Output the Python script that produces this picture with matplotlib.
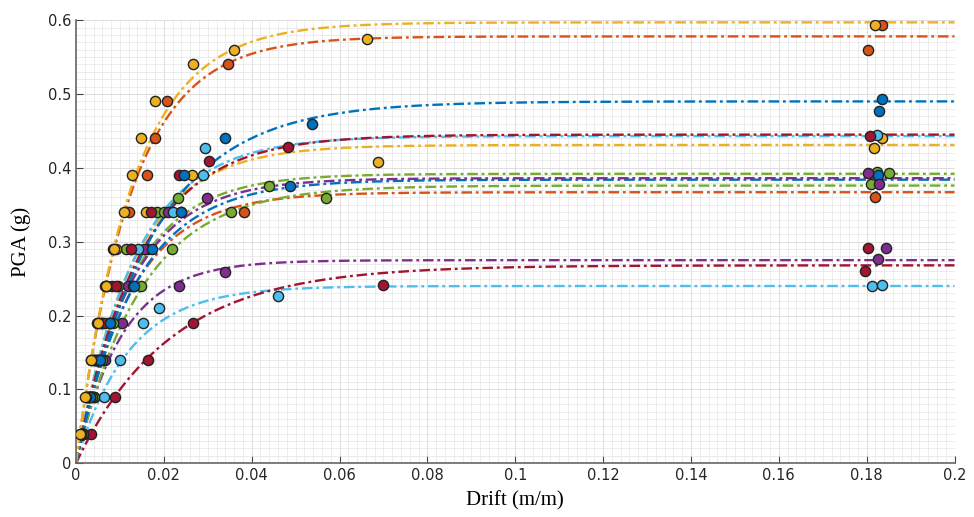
import numpy as np
import matplotlib
matplotlib.use("Agg")
import matplotlib.pyplot as plt
from matplotlib.ticker import MultipleLocator

# MATLAB default line colours
blue = '#0072BD'
orange = '#D95319'
yellow = '#EDB120'
purple = '#7E2F8E'
green = '#77AC30'
lightblue = '#4DBEEE'
darkred = '#A2142F'

# fitted curve: PGA = a * (1 - exp(-drift / b))
series_colors = [purple, lightblue, darkred, orange, green, green, blue,
                 purple, yellow, lightblue, darkred, blue, orange, yellow]
fit_a = [0.275, 0.240, 0.268, 0.367, 0.376, 0.392, 0.384,
         0.386, 0.431, 0.443, 0.445, 0.490, 0.578, 0.597]
fit_b = [0.0105, 0.012, 0.0215, 0.0125, 0.015, 0.0125, 0.0135,
         0.0125, 0.013, 0.0135, 0.0145, 0.0175, 0.0125, 0.0128]

# IDA points (drift, PGA) for each record, collapse points sit near 0.18
drift_pts = [
    [0.0016, 0.004, 0.0065, 0.0105, 0.0234, 0.034, 0.1845, 0.1825],
    [0.0015, 0.0064, 0.0100, 0.0153, 0.019, 0.046, 0.1813, 0.1834],
    [0.0034, 0.0089, 0.0164, 0.0266, 0.070, 0.1802, 0.1797],
    [0.0012, 0.0026, 0.0042, 0.006, 0.0082, 0.0125, 0.0382, 0.1818],
    [0.0016, 0.004, 0.006, 0.0085, 0.0148, 0.0218, 0.0184, 0.0353, 0.057, 0.1811],
    [0.0013, 0.0036, 0.0048, 0.0075, 0.0095, 0.0114, 0.0200, 0.0232, 0.044, 0.1823, 0.185],
    [0.0014, 0.003, 0.005, 0.0075, 0.0125, 0.0165, 0.0239, 0.0487, 0.1825],
    [0.0014, 0.0032, 0.0052, 0.0078, 0.0118, 0.0155, 0.021, 0.0298, 0.1804, 0.1829],
    [0.0012, 0.0025, 0.004, 0.0055, 0.007, 0.009, 0.0159, 0.0264, 0.0687, 0.1836, 0.1816],
    [0.0012, 0.0027, 0.0043, 0.006, 0.0129, 0.0141, 0.0220, 0.0289, 0.0294, 0.1823],
    [0.0013, 0.003, 0.0047, 0.0065, 0.009, 0.0125, 0.017, 0.0234, 0.0303, 0.0482, 0.1807],
    [0.0015, 0.0033, 0.0055, 0.0078, 0.0132, 0.0173, 0.0239, 0.0246, 0.034, 0.0537, 0.1834, 0.1829],
    [0.0011, 0.0022, 0.0035, 0.0048, 0.0066, 0.0085, 0.0121, 0.0162, 0.018, 0.0207, 0.0346, 0.1836, 0.1804],
    [0.0010, 0.0021, 0.0034, 0.0050, 0.0068, 0.0086, 0.0109, 0.0127, 0.0148, 0.018, 0.0266, 0.036, 0.0662, 0.182],
]
pga_pts = [
    [0.04, 0.09, 0.14, 0.19, 0.24, 0.259, 0.291, 0.276],
    [0.04, 0.09, 0.14, 0.19, 0.21, 0.226, 0.240, 0.242],
    [0.04, 0.09, 0.14, 0.19, 0.241, 0.291, 0.260],
    [0.04, 0.09, 0.14, 0.19, 0.24, 0.29, 0.34, 0.360],
    [0.04, 0.09, 0.14, 0.19, 0.24, 0.29, 0.34, 0.34, 0.359, 0.378],
    [0.04, 0.09, 0.14, 0.19, 0.24, 0.29, 0.34, 0.359, 0.376, 0.394, 0.393],
    [0.04, 0.09, 0.14, 0.19, 0.24, 0.29, 0.34, 0.376, 0.39],
    [0.04, 0.09, 0.14, 0.19, 0.24, 0.29, 0.34, 0.359, 0.393, 0.378],
    [0.04, 0.09, 0.14, 0.19, 0.24, 0.29, 0.34, 0.39, 0.408, 0.441, 0.427],
    [0.04, 0.09, 0.14, 0.19, 0.24, 0.29, 0.34, 0.39, 0.427, 0.444],
    [0.04, 0.09, 0.14, 0.19, 0.24, 0.29, 0.34, 0.39, 0.409, 0.428, 0.443],
    [0.04, 0.09, 0.14, 0.19, 0.24, 0.29, 0.34, 0.39, 0.44, 0.459, 0.493, 0.477],
    [0.04, 0.09, 0.14, 0.19, 0.24, 0.29, 0.34, 0.39, 0.44, 0.49, 0.54, 0.593, 0.559],
    [0.04, 0.09, 0.14, 0.19, 0.24, 0.29, 0.34, 0.39, 0.44, 0.49, 0.54, 0.559, 0.575, 0.593],
]

x_ticks = [0, 0.02, 0.04, 0.06, 0.08, 0.1, 0.12, 0.14, 0.16, 0.18, 0.2]
x_labels = ['0', '0.02', '0.04', '0.06', '0.08', '0.1', '0.12', '0.14', '0.16', '0.18', '0.2']
y_ticks = [0, 0.1, 0.2, 0.3, 0.4, 0.5, 0.6]
y_labels = ['0', '0.1', '0.2', '0.3', '0.4', '0.5', '0.6']

fig = plt.figure(figsize=(9.74, 5.17), dpi=100)
ax = fig.add_axes([0.078, 0.104, 0.902, 0.857])

xs = np.linspace(0, 0.2, 400)
for c, a, b in zip(series_colors, fit_a, fit_b):
    ax.plot(xs, a * (1 - np.exp(-xs / b)), color=c, lw=1.7,
            dashes=(4.5, 1.6, 1.2, 1.6), zorder=2)

for c, dx, py in zip(series_colors, drift_pts, pga_pts):
    ax.scatter(dx, py, s=54, color=c, edgecolors='#222', linewidths=1.0, zorder=3)

ax.set_xlim(0, 0.2)
ax.set_ylim(0, 0.6)
ax.set_xticks(x_ticks)
ax.set_xticklabels(x_labels)
ax.set_yticks(y_ticks)
ax.set_yticklabels(y_labels)
ax.xaxis.set_minor_locator(MultipleLocator(0.002))
ax.yaxis.set_minor_locator(MultipleLocator(0.01))
ax.grid(which='major', color='#d8d8d8', lw=0.6)
ax.grid(which='minor', color='#e4e4e4', lw=0.5)
ax.set_axisbelow(True)
ax.tick_params(which='major', direction='in', length=5, width=0.8, colors='#444',
               labelsize=10.5, labelcolor='#262626')
ax.tick_params(which='minor', length=0)

for side in ['top', 'right']:
    ax.spines[side].set_visible(False)
for side in ['left', 'bottom']:
    ax.spines[side].set_color('#666')
    ax.spines[side].set_linewidth(1.2)

ax.set_xlabel('Drift (m/m)', family='Liberation Serif', fontsize=15, labelpad=6)
ax.set_ylabel('PGA (g)', family='Liberation Serif', fontsize=15, labelpad=12)

fig.savefig('out.png', dpi=100)
